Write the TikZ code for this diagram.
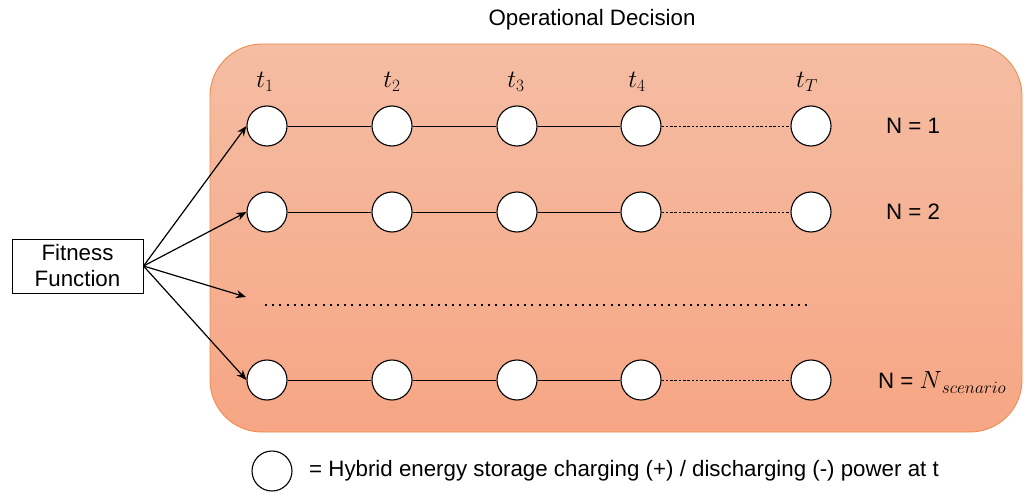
\documentclass[tikz,border=0pt]{standalone}
\usepackage{fontspec}
\setmainfont{Liberation Sans}
\usetikzlibrary{arrows.meta}
\definecolor{panelTop}{RGB}{245,189,164}
\definecolor{panelBot}{RGB}{246,166,132}
\definecolor{panelEdge}{RGB}{240,140,78}
\tikzset{
  state/.style={circle, draw=black, line width=1.1pt, fill=white, minimum size=40pt, inner sep=0pt},
  lbl/.style={font=\fontsize{22.3}{26}\selectfont, inner sep=0pt},
  tlbl/.style={font=\fontsize{26}{30}\selectfont, inner sep=0pt},
  link/.style={line width=0.8pt},
  gap/.style={line width=0.8pt, dash pattern=on 2.5pt off 1.8pt},
  feed/.style={line width=1.2pt, -{Stealth[length=10pt,width=8pt]}},
}
\begin{document}
\begin{tikzpicture}[x=1pt,y=-1pt]
\useasboundingbox (0,0) rectangle (1024,497);

% scenario panel
\shade[top color=panelTop, bottom color=panelBot, rounded corners=52pt]
  (210,44) rectangle (1022,432);
\draw[panelEdge, line width=0.9pt, rounded corners=52pt]
  (210,44) rectangle (1022,432);

\node[lbl] (title) at (592,20) {Operational Decision};

% time-step labels
\node[tlbl] (l1) at (265,82) {$t_1$};
\node[tlbl] (l2) at (392,82) {$t_2$};
\node[tlbl] (l3) at (516,82) {$t_3$};
\node[tlbl] (l4) at (637,82) {$t_4$};
\node[tlbl] (lT) at (807,82) {$t_T$};

% rows of decision variables
\foreach \r/\y in {a/126, b/212, d/380} {
  \node[state] (\r1) at (267,\y) {};
  \node[state] (\r2) at (392,\y) {};
  \node[state] (\r3) at (517,\y) {};
  \node[state] (\r4) at (641,\y) {};
  \node[state] (\r5) at (811,\y) {};
  \draw[link] (\r1) -- (\r2);
  \draw[link] (\r2) -- (\r3);
  \draw[link] (\r3) -- (\r4);
  \draw[gap] (\r4) -- (\r5);
}

\node[lbl, anchor=west] (n1) at (886,126) {N = 1};
\node[lbl, anchor=west] (n2) at (886,212) {N = 2};
\node[lbl, anchor=west] (nS) at (878,382) {N = {\fontsize{25}{28}\selectfont$N$}\raisebox{-5pt}{\fontsize{19}{22}\selectfont$scenario$}};

% elided scenarios
\coordinate (c1) at (265,305);
\coordinate (c2) at (812,305);
\draw[line width=2pt, dash pattern=on 2pt off 5.2pt] (c1) -- (c2);

% fitness function feeding every scenario
\node[draw=black, line width=1pt, minimum width=131pt, minimum height=54pt,
      align=center, font=\fontsize{22.3}{26}\selectfont, inner sep=0pt] (fit) at (77.5,266) {Fitness\\Function};
\coordinate (cm) at (246,297);
\draw[feed] (fit.east) -- (a1.west);
\draw[feed] (fit.east) -- (b1.west);
\draw[feed] (fit.east) -- (cm);
\draw[feed] (fit.east) -- (d1.west);

% legend
\node[circle, draw=black, line width=1.1pt, minimum size=40pt, inner sep=0pt] (key) at (272,471) {};
\node[lbl, anchor=west] (keytxt) at (309,471) {= Hybrid energy storage charging (+) / discharging (-) power at t};
\end{tikzpicture}
\end{document}
